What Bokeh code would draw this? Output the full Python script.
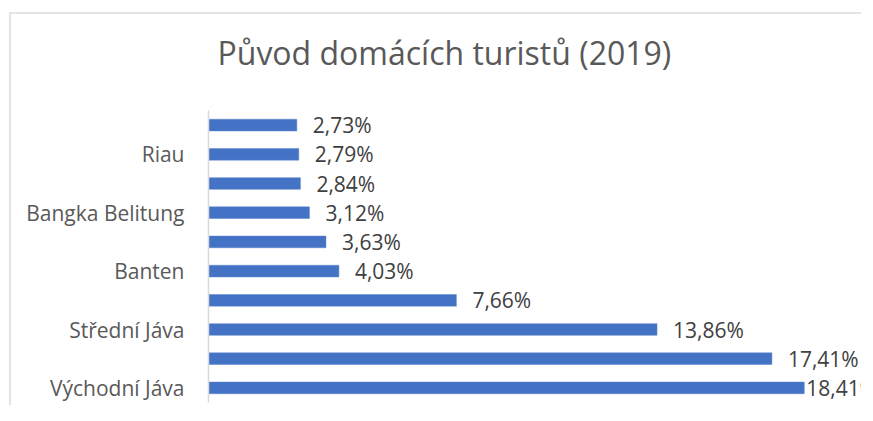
from bokeh.plotting import figure
from bokeh.models import ColumnDataSource, LabelSet, FactorRange, Range1d, CustomJSTickFormatter, Title
from bokeh.core.properties import value
from bokeh.embed import file_html
from bokeh.resources import INLINE

# Data (bottom to top)
regions = ["Východní Jáva", "Jakarta", "Střední Jáva", "Západní Jáva", "Banten",
           "Jižní Sumatra", "Bangka Belitung", "Severní Sumatra", "Riau", "Lampung"]
shares = [18.41, 17.41, 13.86, 7.66, 4.03, 3.63, 3.12, 2.84, 2.79, 2.73]
shown_labels = ["Východní Jáva", "Střední Jáva", "Banten", "Bangka Belitung", "Riau"]
title_text = "Původ domácích turistů (2019)"

labels = [("%.2f" % v).replace(".", ",") + "%" for v in shares]
# Excel pulls the label of the longest bar closer to its bar
offsets = [2 if v == max(shares) else 16 for v in shares]
src = ColumnDataSource(dict(region=regions, share=shares, label=labels, off=offsets))

FONT = "Open Sans"
p = figure(width=852, height=393, output_backend="svg", toolbar_location=None,
           y_range=FactorRange(factors=regions, range_padding=0),
           x_range=Range1d(0, 20.24),
           min_border_left=197, min_border_right=0, min_border_top=96,
           min_border_bottom=5)
p.margin = (12, 0, 0, 9)
p.styles = {"border-left": "2px solid #e4e4e4", "border-top": "2px solid #e4e4e4"}

p.hbar(y="region", right="share", left=0, height=0.4, source=src,
       fill_color="#4472C4", line_color="#5b86d0", line_width=0.5)

lbl = LabelSet(x="share", y="region", text="label", source=src, x_offset="off",
               text_baseline="middle", text_font=value(FONT), text_font_size="21px",
               text_color="#404040")
p.add_layout(lbl)

# spacer between the title and the plot area, then the title itself
spacer = Title(text=" ", text_font_size="1px", standoff=29)
p.add_layout(spacer, "above")
main_title = Title(text=title_text, text_font=FONT, text_font_size="32px",
                   text_font_style="normal", text_color="#595959",
                   align="left", offset=9, standoff=10)
p.add_layout(main_title, "above")

p.xaxis.visible = False
p.xgrid.visible = False
p.ygrid.visible = False
p.outline_line_color = None

ax = p.yaxis[0]
ax.axis_line_color = "#d9d9d9"
ax.axis_line_width = 1.5
ax.major_tick_line_color = None
ax.minor_tick_line_color = None
ax.major_tick_out = 0
ax.major_label_standoff = 24
ax.major_label_text_font = FONT
ax.major_label_text_font_size = "21px"
ax.major_label_text_color = "#595959"
ax.formatter = CustomJSTickFormatter(args=dict(shown=shown_labels),
                                     code="return shown.includes(tick) ? tick : '';")

open("out.html", "w").write(file_html(p, INLINE))
